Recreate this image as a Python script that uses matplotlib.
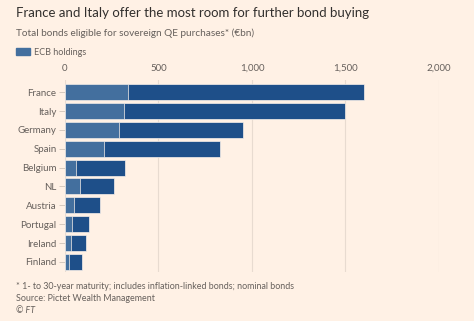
import matplotlib.pyplot as plt
import numpy as np

countries = ["France", "Italy", "Germany", "Spain", "Belgium",
             "NL", "Austria", "Portugal", "Ireland", "Finland"]
total_bonds = [1600, 1500, 950, 830, 320, 260, 190, 130, 115, 92]
ecb_holdings = [337, 315, 287, 207, 60, 80, 48, 37, 32, 23]
x_ticks = [0, 500, 1000, 1500, 2000]
x_labels = ["0", "500", "1,000", "1,500", "2,000"]

bg = "#fff1e5"
dark = "#1e4f89"
light = "#436f9e"
grey = "#66605c"

plt.rcParams["font.family"] = ["Lato", "DejaVu Sans"]


def main():
    fig = plt.figure(figsize=(4.74, 3.21), dpi=100, facecolor=bg)
    ax = fig.add_axes([0.137, 0.153, 0.789, 0.598], facecolor=bg)

    y = np.arange(len(countries))
    ax.barh(y, total_bonds, height=0.85, color=dark, edgecolor="#f7f0ea",
            linewidth=0.5, zorder=2)
    ax.barh(y, ecb_holdings, height=0.85, color=light, edgecolor="#f7f0ea",
            linewidth=0.5, zorder=3)

    ax.set_xlim(0, 2000)
    ax.set_ylim(9.53, -0.65)
    ax.set_xticks(x_ticks)
    ax.set_xticklabels(x_labels)
    ax.set_yticks(y)
    ax.set_yticklabels(countries)
    ax.xaxis.tick_top()
    ax.tick_params(axis="x", length=0, pad=5, labelsize=7, labelcolor=grey)
    ax.tick_params(axis="y", length=4, width=0.6, color="#cfc3b8", pad=2,
                   labelsize=7, labelcolor=grey)
    ax.grid(axis="x", color="#e8dbd0", linewidth=0.8, zorder=0)
    for s in ax.spines.values():
        s.set_visible(False)

    fig.text(0.034, 0.958, "France and Italy offer the most room for further bond buying",
             fontsize=9.5, color="#33302e", va="center")
    fig.text(0.034, 0.895, "Total bonds eligible for sovereign QE purchases* (\u20acbn)",
             fontsize=7.2, color=grey, va="center")
    fig.patches.append(plt.Rectangle((0.034, 0.829), 0.03, 0.02, color=light,
                                     transform=fig.transFigure, figure=fig))
    fig.text(0.072, 0.838, "ECB holdings", fontsize=6.5, color=grey, va="center")

    fig.text(0.034, 0.106, "* 1- to 30-year maturity; includes inflation-linked bonds; nominal bonds",
             fontsize=6.4, color=grey, va="center")
    fig.text(0.034, 0.070, "Source: Pictet Wealth Management",
             fontsize=6.4, color=grey, va="center")
    fig.text(0.034, 0.034, "\u00a9 FT", fontsize=6.4, color=grey, va="center",
             style="italic")

    plt.savefig("out.png", dpi=100, facecolor=bg)
    plt.close()


if __name__ == "__main__":
    main()
